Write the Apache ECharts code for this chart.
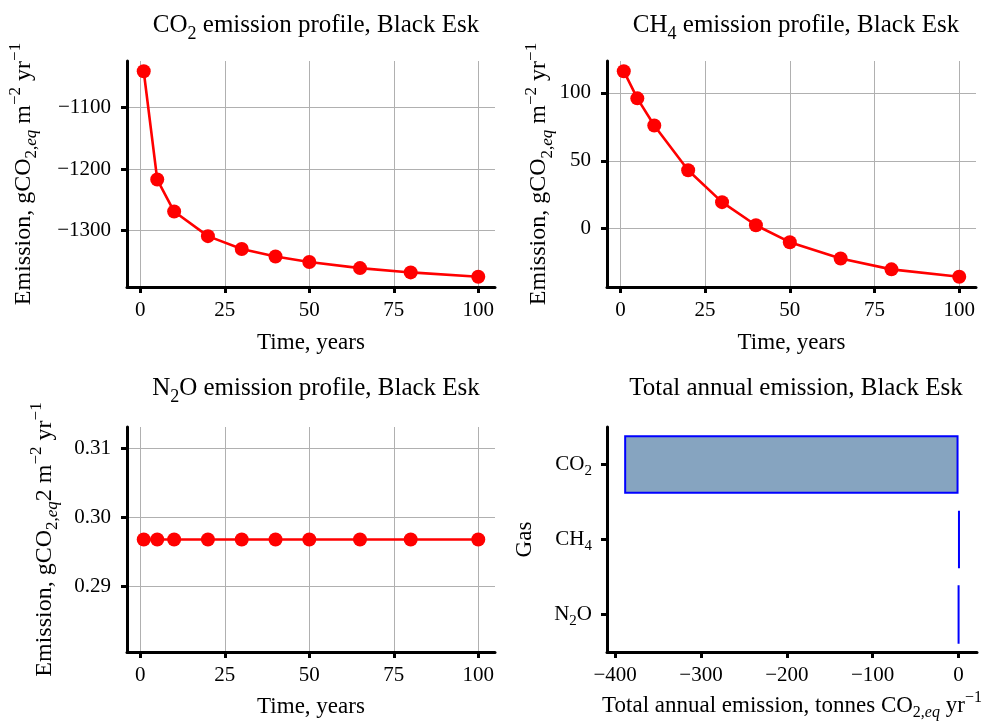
<!DOCTYPE html>
<html><head><meta charset="utf-8">
<script src="https://cdn.jsdelivr.net/npm/echarts@6/dist/echarts.min.js"></script>
<style>html,body{margin:0;padding:0;background:#fff}#c{width:993px;height:723px}</style>
</head><body><div id="c"></div>
<script>
// ---- data ----
const years = [1, 5, 10, 20, 30, 40, 50, 65, 80, 100];
const co2Emission = [-1041, -1217, -1269, -1309, -1330, -1342, -1351, -1361, -1368, -1375];
const ch4Emission = [116, 96, 76, 43, 19.5, 2.5, -10, -22, -30, -35.5];
const n2oEmission = [0.2968, 0.2968, 0.2968, 0.2968, 0.2968, 0.2968, 0.2968, 0.2968, 0.2968, 0.2968];
const gases = ['CO2', 'CH4', 'N2O'];
const totalAnnual = [-389.5, 1.0, 0.1];
// tick labels
const timeTicks = [0, 25, 50, 75, 100];
const co2Ticks = [-1300, -1200, -1100];
const ch4Ticks = [0, 50, 100];
const n2oTicks = [0.29, 0.30, 0.31];
const totalTicks = [-400, -300, -200, -100, 0];

// ---- styling ----
const FONT = 'Liberation Serif';
const TICK = 21;
const NAME = 23;
const YNAME = 24;
const TITLE = 25;
function richSet(size, k) {
  const f = Math.round(size * (k || 0.7));
  return {
    s: {fontFamily: FONT, fontSize: f, color: '#000', verticalAlign: 'bottom', height: 8, lineHeight: 8},
    si: {fontFamily: FONT, fontSize: f, fontStyle: 'italic', color: '#000', verticalAlign: 'bottom', height: 8, lineHeight: 8},
    p: {fontFamily: FONT, fontSize: f, color: '#000', verticalAlign: 'top', height: 8, lineHeight: 8}
  };
}
const gasLabel = {CO2: 'CO{s|2}', CH4: 'CH{s|4}', N2O: 'N{s|2}O'};
const minus = v => String(v).replace('-', '\u2212');

const grids = [
  {left: 127, top: 61, width: 368, height: 226},
  {left: 607, top: 61, width: 369, height: 226},
  {left: 127, top: 427, width: 368, height: 225},
  {left: 607, top: 427, width: 370, height: 225}
];

function axisBase(gi) {
  return {
    gridIndex: gi,
    axisLine: {show: true, onZero: false, lineStyle: {color: '#000', width: 3}},
    axisTick: {show: true, inside: false, length: 6, lineStyle: {color: '#000', width: 3}},
    axisLabel: {color: '#000', fontFamily: FONT, fontSize: TICK},
    splitLine: {show: true, lineStyle: {color: '#b0b0b0', width: 1}},
    nameTextStyle: {color: '#000', fontFamily: FONT, fontSize: NAME, rich: richSet(NAME)}
  };
}
function timeAxis(gi, gap) {
  const a = axisBase(gi);
  a.type = 'value'; a.min = -3.95; a.max = 104.95;
  a.name = 'Time, years'; a.nameLocation = 'middle'; a.nameGap = gap;
  a.axisTick.customValues = timeTicks;
  a.axisLabel.customValues = timeTicks; a.axisLabel.margin = 13;
  return a;
}
function valAxis(gi, min, max, ticks, name, gap, fmt) {
  const a = axisBase(gi);
  a.type = 'value'; a.min = min; a.max = max;
  a.name = name; a.nameLocation = 'middle'; a.nameGap = gap; a.nameRotate = 90;
  a.nameTextStyle = {color: '#000', fontFamily: FONT, fontSize: YNAME, rich: richSet(YNAME, 0.72)};
  a.axisTick.customValues = ticks;
  a.axisLabel.customValues = ticks; a.axisLabel.margin = 16; a.axisLabel.formatter = fmt;
  return a;
}
const emName = 'Emission, gCO{s|2,}{si|eq} m{p|\u22122} yr{p|\u22121}';
const emName3 = 'Emission, gCO{s|2,}{si|eq}2 m{p|\u22122} yr{p|\u22121}';

const xAxes = [timeAxis(0, 44), timeAxis(1, 44), timeAxis(2, 43)];
const x4 = axisBase(3);
x4.type = 'value'; x4.min = -409.5; x4.max = 21.5;
x4.name = 'Total annual emission, tonnes CO{s|2,}{si|eq} yr{p|\u22121}';
x4.nameLocation = 'middle'; x4.nameGap = 42;
x4.axisTick.customValues = totalTicks;
x4.axisLabel.customValues = totalTicks; x4.axisLabel.margin = 13; x4.axisLabel.formatter = minus;
x4.splitLine.show = false;
xAxes.push(x4);

const yAxes = [
  valAxis(0, -1391.7, -1024.3, co2Ticks, emName, 91, minus),
  valAxis(1, -43, 123.5, ch4Ticks, emName, 53, minus),
  valAxis(2, 0.2805, 0.3131, n2oTicks, emName3, 70, v => Number(v).toFixed(2))
];
const y4 = axisBase(3);
y4.type = 'category'; y4.data = gases; y4.inverse = true;
y4.name = 'Gas'; y4.nameLocation = 'middle'; y4.nameGap = 71; y4.nameRotate = 90;
y4.axisTick.alignWithLabel = true;
y4.axisLabel.margin = 15; y4.axisLabel.formatter = v => gasLabel[v]; y4.axisLabel.rich = richSet(TICK);
y4.splitLine.show = false;
yAxes.push(y4);

function lineSeries(gi, vals) {
  return {
    type: 'line', xAxisIndex: gi, yAxisIndex: gi,
    data: years.map((y, i) => [y, vals[i]]),
    symbol: 'circle', symbolSize: 14, showSymbol: true,
    lineStyle: {color: '#ff0000', width: 2.6},
    itemStyle: {color: '#ff0000'},
    animation: false, z: 5
  };
}

function title(text, x, top) {
  return {text: text, left: x, top: top, textAlign: 'center',
    textStyle: {fontFamily: FONT, fontSize: TITLE, fontWeight: 'normal', color: '#000', rich: richSet(TITLE)}};
}

const option = {
  backgroundColor: '#fff',
  animation: false,
  title: [
    title('CO{s|2} emission profile, Black Esk', 311, 8),
    title('CH{s|4} emission profile, Black Esk', 791, 8),
    title('N{s|2}O emission profile, Black Esk', 311, 371),
    title('Total annual emission, Black Esk', 791, 371)
  ],
  grid: grids,
  xAxis: xAxes,
  yAxis: yAxes,
  series: [
    lineSeries(0, co2Emission),
    lineSeries(1, ch4Emission),
    lineSeries(2, n2oEmission),
    {
      type: 'bar', xAxisIndex: 3, yAxisIndex: 3,
      data: totalAnnual, barCategoryGap: '22%',
      itemStyle: {color: '#86a4c0', borderColor: '#0000ff', borderWidth: 2},
      animation: false
    }
  ]
};
const chart = echarts.init(document.getElementById('c'), null, {renderer: 'canvas'});
chart.setOption(option);
</script>
</body></html>
